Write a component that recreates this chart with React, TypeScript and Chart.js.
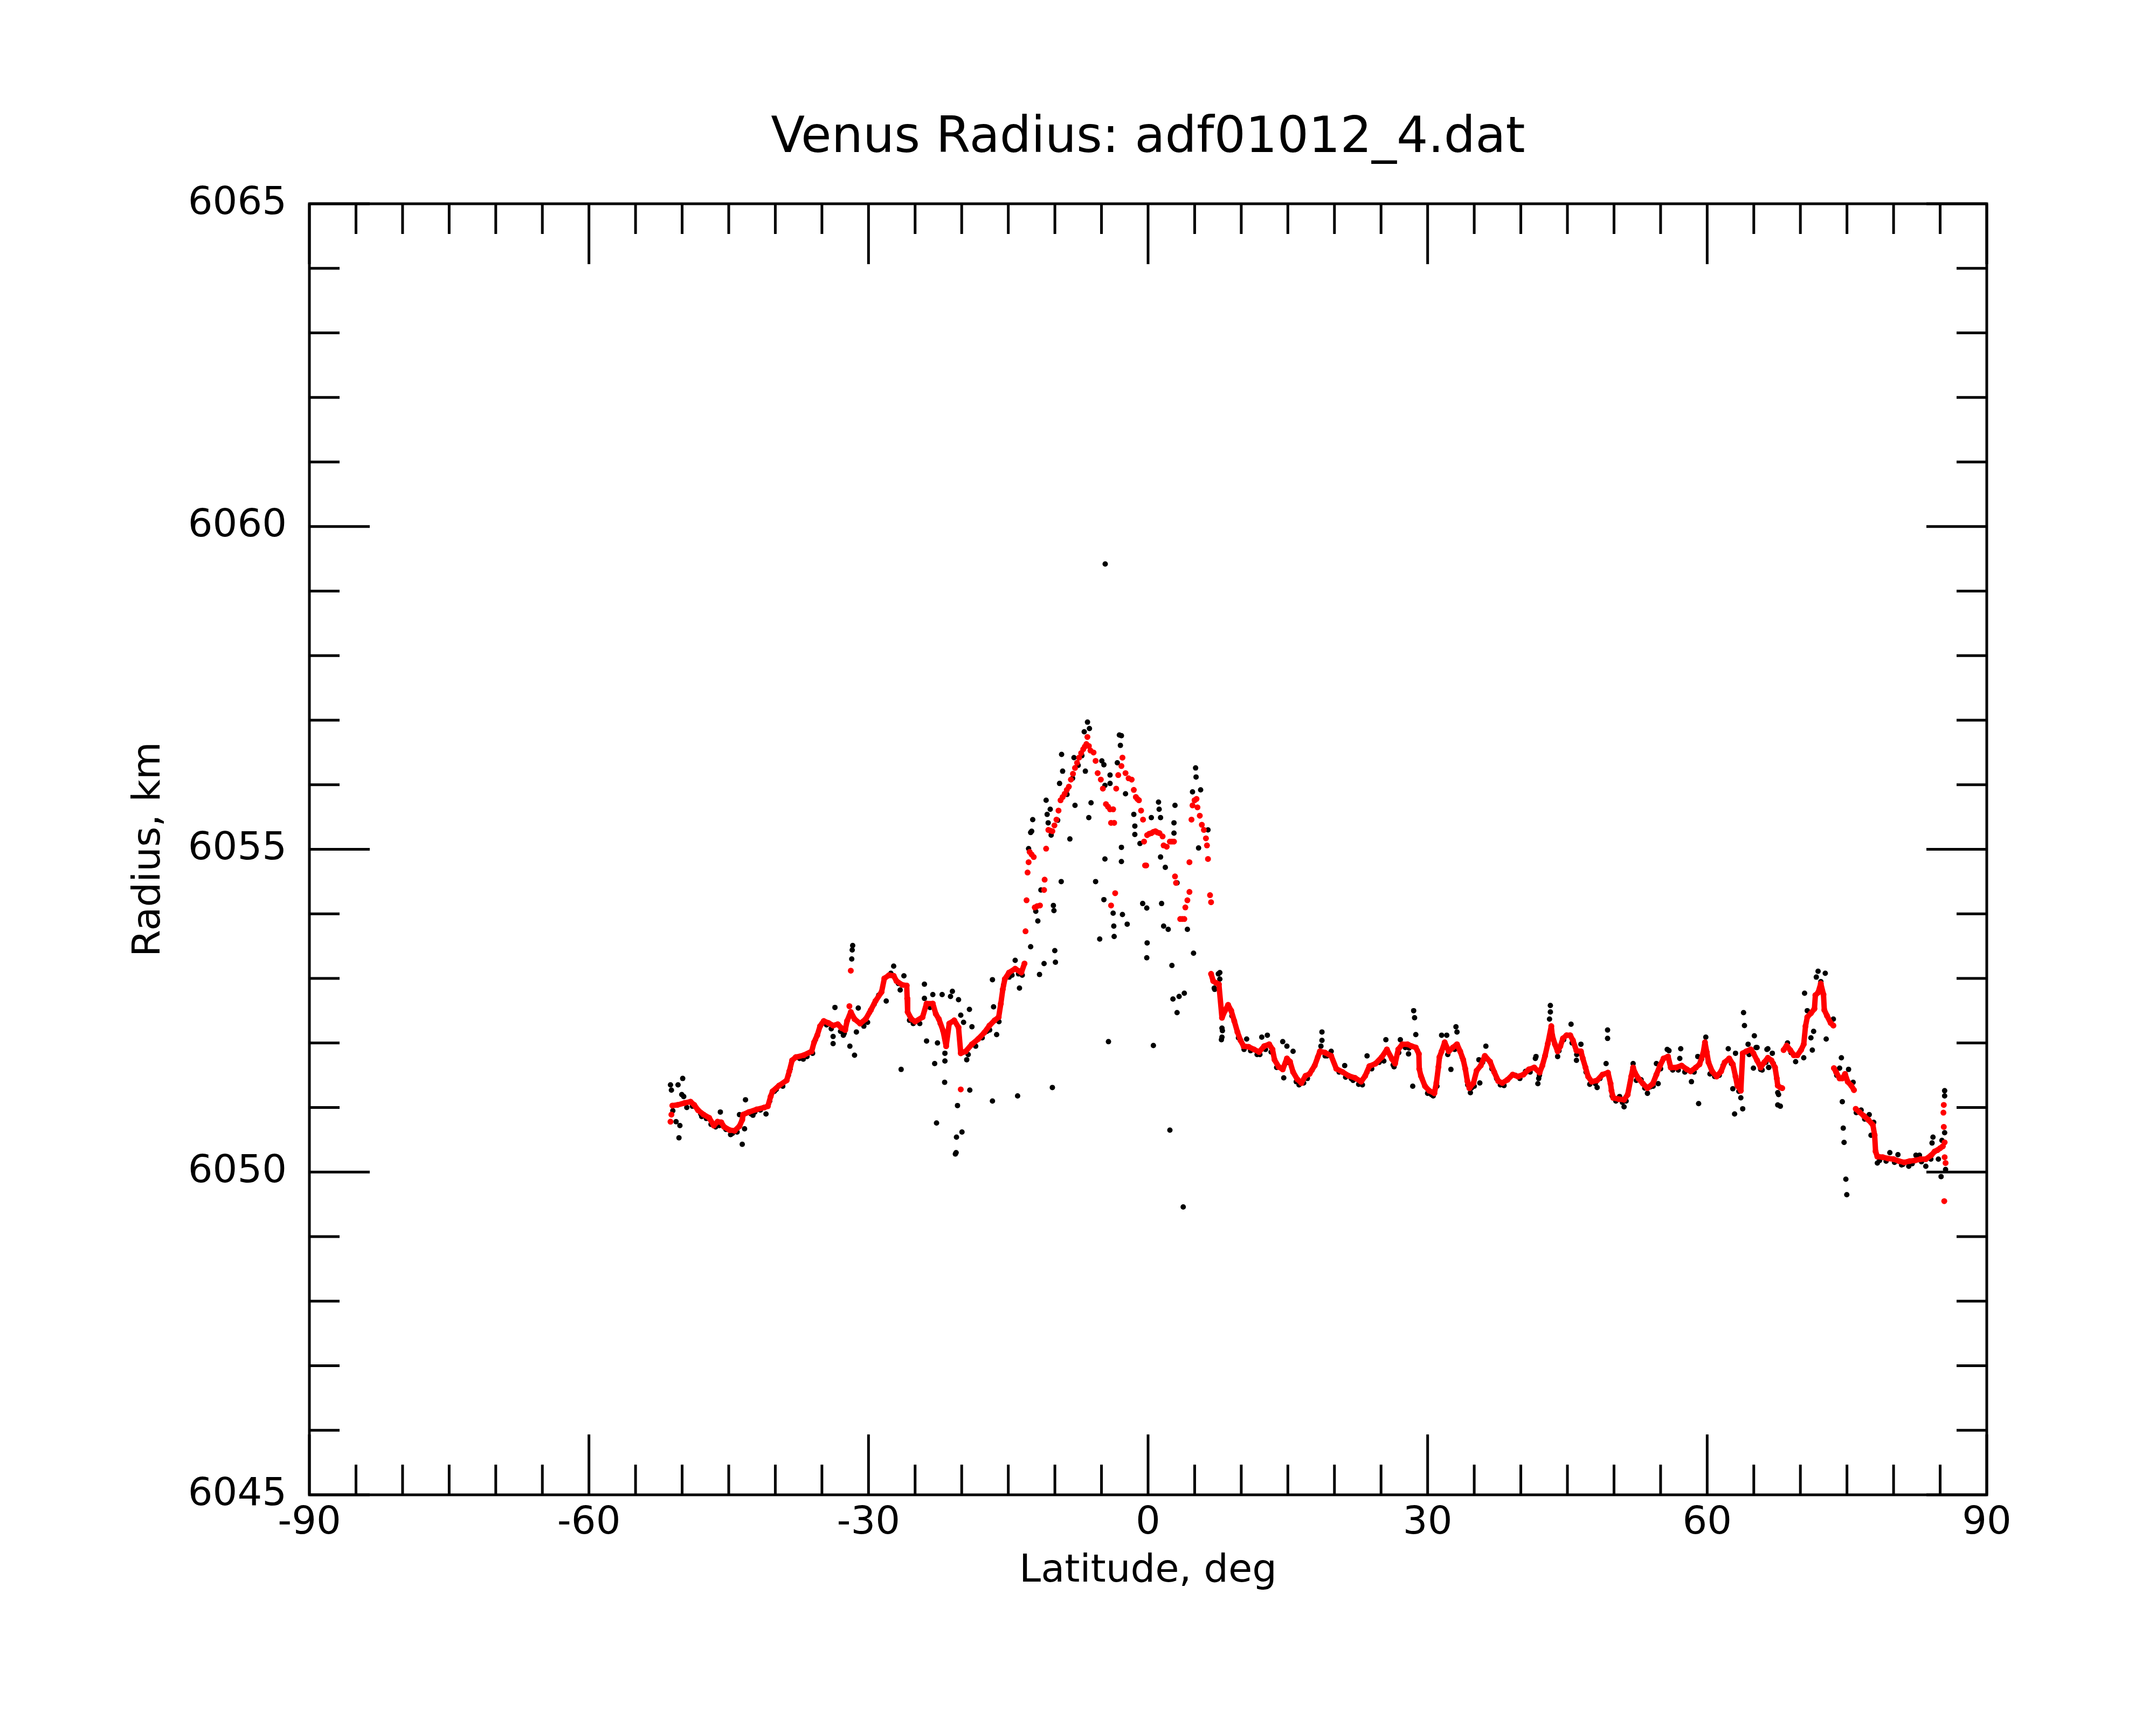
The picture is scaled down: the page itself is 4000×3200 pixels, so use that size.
import React, { useEffect, useRef } from 'react'
import { Chart, registerables } from 'chart.js'

Chart.register(...registerables)

const chartTitle = 'Venus Radius: adf01012_4.dat'
const xTitle = 'Latitude, deg'
const yTitle = 'Radius, km'

const latTicks = [-90, -60, -30, 0, 30, 60, 90]
const radiusTicks = [6045, 6050, 6055, 6060, 6065]
const latMinorStep = 5
const radiusMinorStep = 1

// smoothed profile (red), null = gap in the trace
const redLineLat = [
	-51.05, -50.5, -49.73, -49.1, -48.7, -48.3, -47.7, -47.1, -46.6, -46.2, -45.8, -45.5, -44.9, -44.36, -43.85, -43.55,
	-43.45, -42.84, -42.0, -41.2, -40.8, -40.5, -40.3, -39.6, -38.78, -38.5, -38.2, -37.8, -36.95, -36.1, -35.84, -35.5,
	-35.2, -34.8, -34.3, -33.8, -33.3, -32.9, -32.5, -32.3, -31.9, -31.5, -30.9, -30.3, -29.75, -29.25, -28.6, -28.3,
	-27.8, -27.3, -27.0, -26.4, -25.9, -25.85, -25.8, -25.4, -25.0, -24.2, -23.77, -23.1, -22.78, -22.45, -22.0, -21.67,
	-21.34, -20.8, -20.34, -20.1, -19.57, -18.9, -18.24, -17.58, -17.02, -16.47, -16.03, -15.8, -15.59, -15.37, -14.92,
	-14.26, -13.6, -13.26, -13.2,
	6.76, 6.99, 7.3, 7.6, 7.93, 8.26, 8.59, 8.92, 9.25, 9.59, 9.92, 10.25, 10.8, 11.36, 11.91, 12.46, 13.0, 13.35, 13.57,
	14.01, 14.45, 14.9, 15.23, 15.56, 16.0, 16.45, 16.89, 17.33, 17.88, 18.44, 18.99, 19.65, 20.2, 20.87, 21.53, 22.2,
	22.86, 23.3, 23.75, 24.41, 25.08, 25.63, 26.18, 26.51, 26.85, 27.29, 27.84, 28.29, 28.73, 29.06, 29.1, 29.28, 29.72,
	30.17, 30.72, 30.94, 31.16, 31.27, 31.5, 31.83, 32.27, 32.71, 33.15, 33.49, 33.82, 34.04, 34.26, 34.48, 34.92, 35.26,
	35.7, 36.14, 36.7, 37.14, 37.58, 38.02, 38.57, 39.13, 39.7, 40.28, 40.86, 41.44, 42.02, 42.31, 42.6, 42.9, 43.27,
	43.37, 43.66, 43.95, 44.24, 44.52, 44.91, 45.3, 45.59, 45.97, 46.45, 46.65, 46.94, 47.22, 47.61, 48.19, 48.77, 49.35,
	49.63, 49.73, 49.92, 50.5, 51.08, 51.47, 51.85, 52.05, 52.24, 52.62, 53.1, 53.59, 54.17, 54.55, 54.94, 55.32, 55.8,
	56.09, 56.67, 57.25, 57.83, 58.22, 58.79, 59.18, 59.57, 59.76, 59.95, 60.14, 60.53, 61.01, 61.49, 61.88, 62.36, 62.75,
	63.04, 63.23, 63.61, 63.81, 64.19, 64.68, 64.96, 65.35, 65.74, 66.12, 66.51, 66.89, 67.28, 67.47, 67.57, 67.85, 68.05,
	68.1,
	68.2, 68.53, 68.91, 69.3, 69.68, 70.07, 70.36, 70.55, 70.74, 71.13, 71.51, 71.61, 71.9, 72.19, 72.48, 72.57, 72.86,
	73.25, 73.54, 73.55,
	73.6, 73.83, 74.21, 74.5, 74.79, 75.08, 75.46, 75.75, 75.8,
	75.94, 76.33, 76.81, 77.29, 77.78, 77.97, 78.07, 78.26, 78.84, 79.41, 79.99, 80.57, 81.15, 81.73, 82.3, 82.88, 83.46,
	84.04, 84.42, 84.71, 85.0, 85.29,
]
const redLineRadius = [
	6051.03, 6051.04, 6051.07, 6051.09, 6051.04, 6050.96, 6050.89, 6050.84, 6050.72, 6050.78, 6050.77, 6050.7, 6050.65,
	6050.64, 6050.71, 6050.81, 6050.89, 6050.93, 6050.97, 6051.0, 6051.02, 6051.17, 6051.25, 6051.34, 6051.42, 6051.56,
	6051.73, 6051.78, 6051.81, 6051.87, 6052.01, 6052.12, 6052.26, 6052.34, 6052.31, 6052.27, 6052.29, 6052.23, 6052.2,
	6052.34, 6052.48, 6052.37, 6052.3, 6052.37, 6052.51, 6052.65, 6052.79, 6053.0, 6053.05, 6053.04, 6052.96, 6052.9,
	6052.89, 6052.69, 6052.48, 6052.37, 6052.33, 6052.4, 6052.61, 6052.61, 6052.45, 6052.37, 6052.19, 6051.95, 6052.3,
	6052.35, 6052.24, 6051.84, 6051.87, 6051.98, 6052.06, 6052.16, 6052.27, 6052.35, 6052.4, 6052.61, 6052.83, 6052.99,
	6053.09, 6053.15, 6053.09, 6053.23, null,
	6053.07, 6052.96, 6052.93, 6052.91, 6052.39, 6052.5, 6052.59, 6052.5, 6052.34, 6052.17, 6052.04, 6051.95, 6051.94,
	6051.9, 6051.86, 6051.95, 6051.98, 6051.9, 6051.74, 6051.63, 6051.59, 6051.76, 6051.71, 6051.55, 6051.44, 6051.38,
	6051.49, 6051.52, 6051.65, 6051.87, 6051.85, 6051.8, 6051.6, 6051.55, 6051.49, 6051.46, 6051.4, 6051.49, 6051.64,
	6051.68, 6051.78, 6051.9, 6051.75, 6051.68, 6051.9, 6051.98, 6051.98, 6051.95, 6051.93, 6051.83, 6051.6, 6051.49,
	6051.33, 6051.26, 6051.22, 6051.38, 6051.63, 6051.78, 6051.87, 6052.01, 6051.87, 6051.93, 6051.98, 6051.87, 6051.74,
	6051.6, 6051.41, 6051.3, 6051.38, 6051.57, 6051.65, 6051.8, 6051.71, 6051.55, 6051.41, 6051.38, 6051.43, 6051.51,
	6051.48, 6051.51, 6051.59, 6051.62, 6051.54, 6051.65, 6051.8, 6051.99, 6052.26, 6052.12, 6051.98, 6051.87, 6051.95,
	6052.07, 6052.12, 6052.12, 6052.04, 6051.88, 6051.87, 6051.76, 6051.62, 6051.48, 6051.4, 6051.42, 6051.51, 6051.54,
	6051.37, 6051.26, 6051.15, 6051.13, 6051.12, 6051.2, 6051.48, 6051.62, 6051.54, 6051.45, 6051.37, 6051.3, 6051.37,
	6051.51, 6051.65, 6051.76, 6051.79, 6051.62, 6051.62, 6051.65, 6051.59, 6051.56, 6051.62, 6051.67, 6051.84, 6052.01,
	6051.86, 6051.7, 6051.56, 6051.48, 6051.56, 6051.7, 6051.76, 6051.67, 6051.48, 6051.34, 6051.26, 6051.84, 6051.87,
	6051.9, 6051.84, 6051.73, 6051.62, 6051.7, 6051.77, 6051.73, 6051.62, 6051.45, 6051.34, 6051.31, 6051.3,
	null,
	6051.89, 6051.96, 6051.89, 6051.81, 6051.81, 6051.89, 6051.98, 6052.26, 6052.4, 6052.46, 6052.53, 6052.74, 6052.78,
	6052.92, 6052.75, 6052.51, 6052.42, 6052.31, 6052.27, null,
	6051.61, 6051.55, 6051.45, 6051.45, 6051.52, 6051.4, 6051.34, 6051.27, null,
	6050.98, 6050.93, 6050.87, 6050.81, 6050.73, 6050.57, 6050.32, 6050.24, 6050.23, 6050.21, 6050.2, 6050.17, 6050.15,
	6050.17, 6050.18, 6050.2, 6050.2, 6050.26, 6050.32, 6050.34, 6050.37, 6050.4,
]

// smoothed profile where it breaks into loose dots (red)
const redDotLat = [
	-51.25, -51.15, -32.05, -31.9, -20.1, -13.15, -13.04, -12.93, -12.82, -12.71, -12.5, -12.27, -12.16, -11.9, -11.6,
	-11.16, -11.1, -10.94, -10.7, -10.5, -10.27, -10.05, -9.83, -9.61, -9.39, -9.17, -8.95, -8.72, -8.5, -8.28, -8.06,
	-7.84, -7.62, -7.4, -7.18, -6.96, -6.79, -6.62, -6.51, -6.35, -6.18, -5.85, -5.63, -5.41, -5.07, -4.85, -4.52, -4.3,
	-4.08, -3.75, -3.97, -3.64, -3.53, -3.97, -3.42, -3.2, -2.86, -2.75, -2.42, -2.09, -1.76, -1.53, -1.31, -1.15, -0.98,
	-0.75, -0.54, -0.43, -0.32, -0.2, -0.1, 0.12, 0.35, 0.57, 0.79, 1.01, 1.23, 1.56, 1.67, 2.0, 2.34, 2.56, 2.78, 2.89,
	3.0, 3.45, 3.67, 3.89, 4.0, 4.22, 4.44, 4.44, 4.66, 4.77, 4.99, 5.2, 5.3, 5.55, 5.77, 5.99, 6.21, 6.32, 6.43, 6.65,
	6.76, 85.39, 85.35, 85.39, 85.48, 85.48, 85.58, 85.44,
]
const redDotRadius = [
	6050.78, 6050.89, 6052.57, 6053.12, 6051.28, 6053.73, 6054.21, 6054.64, 6054.8, 6054.96, 6054.92, 6054.88, 6054.1,
	6054.12, 6054.13, 6054.37, 6054.53, 6055.01, 6055.3, 6055.29, 6055.28, 6055.37, 6055.46, 6055.6, 6055.76, 6055.81,
	6055.86, 6055.92, 6055.97, 6056.08, 6056.17, 6056.26, 6056.34, 6056.42, 6056.49, 6056.55, 6056.59, 6056.63, 6056.74,
	6056.6, 6056.53, 6056.5, 6056.37, 6056.18, 6056.08, 6055.94, 6055.7, 6055.66, 6055.62, 6055.62, 6055.41, 6055.41,
	6054.32, 6054.13, 6055.94, 6056.15, 6056.29, 6056.42, 6056.18, 6056.1, 6056.08, 6055.92, 6055.81, 6055.78, 6055.76,
	6055.6, 6055.46, 6055.12, 6054.75, 6054.75, 6055.22, 6055.24, 6055.25, 6055.27, 6055.28, 6055.26, 6055.25, 6055.2,
	6055.06, 6055.04, 6055.12, 6055.12, 6055.12, 6054.58, 6054.48, 6053.92, 6053.92, 6053.92, 6054.1, 6054.21, 6054.34,
	6054.8, 6055.46, 6055.68, 6055.76, 6055.78, 6055.65, 6055.52, 6055.38, 6055.3, 6055.17, 6055.06, 6054.85, 6054.29,
	6054.18, 6051.04, 6050.92, 6050.7, 6050.46, 6050.23, 6050.14, 6049.55,
]

// raw measurements (black)
const blackLat = [
	-51.25, -51.15, -50.44, -49.94, -50.04, -49.83, -50.65, -50.24, -50.34, -51.0, -49.5, -48.9, -48.0, -47.4, -46.9,
	-46.4, -45.9, -45.3, -44.6, -44.1, -43.85, -43.55, -43.3, -43.2, -42.6, -42.2, -41.6, -41.0, -40.1, -39.2, -38.4,
	-37.4, -36.6, -35.7, -35.0, -34.5, -34.0, -33.6, -33.8, -33.8, -33.0, -32.7, -32.0, -31.5, -31.7, -31.8, -31.75,
	-31.3, -31.1, -30.6, -30.5, -29.9, -29.4, -28.9, -28.1, -27.6, -27.3, -26.8, -26.6, -26.5, -26.2, -25.6, -25.2,
	-24.0, -24.0, -23.1, -22.1, -21.0, -21.2, -20.34, -23.77, -22.6, -22.9, -21.8, -21.8, -21.83, -22.7, -20.45, -20.56,
	-19.97, -20.68, -20.6, -19.13, -19.17, -18.9, -19.46, -20.1, -19.8, -16.7, -16.7, -16.58, -16.25, -14.26, -14.0,
	-13.8, -12.6, -11.65, -11.16, -10.27, -10.01, -9.94, -12.49, -12.38, -12.6, -12.82, -12.05, -11.83, -11.5, -10.94,
	-10.5, -10.83, -10.72, -10.16, -10.1, -9.28, -9.17, -9.5, -9.32, -8.39, -7.84, -7.95, -6.73, -6.5, -6.29, -6.85,
	-6.36, -6.12, -5.63, -5.19, -4.96, -4.74, -4.63, -4.08, -4.08, -4.63, -4.74, -3.75, -3.68, -3.64, -4.25, -2.86,
	-2.86, -2.75, -2.24, -3.08, -2.86, -2.97, -3.3, -2.42, -1.53, -1.42, -1.42, -0.87, -0.58, -0.14, -0.1, -0.14, 0.35,
	0.57, 1.12, 1.19, 1.34, 1.34, 1.45, 1.67, 1.85, 2.16, 2.56, 2.34, 2.67, 2.78, 2.78, 2.89, 3.11, 3.11, 3.33, 3.77,
	3.89, 4.22, 4.77, 5.1, 5.15, 4.88, 5.42, 5.64, 6.43, 7.54, 7.1, 7.87, 7.98, -4.6, -18.5, -17.8, -17.3, -15.5, -14.6,
	-13.9, -19.3, -8.7, -8.1, -7.5, -7.1, -9.7, -10.4,
	7.7, 7.7, 7.15, 7.93, 7.93, 10.58, 12.2, 12.8, 14.45, 14.56, 14.9, 15.56, 18.66, 18.66, 18.55, 19.65, 21.1, 23.5,
	25.52, 27.07, 26.4, 27.95, 28.5, 28.6, 28.73, 28.4, 31.5, 32.05, 33.04, 33.15, 32.5, 32.16, 35.5, 36.25, 35.6, 34.59,
	41.56, 10.3, 11.0, 11.7, 13.8, 16.2, 16.7, 17.6, 19.2, 20.5, 21.8, 22.6, 23.0, 24.0, 24.8, 26.9, 27.6, 29.4, 30.4,
	30.6, 33.7, 34.7, 36.4, 37.4, 38.2, 39.4, 40.5,
	41.63, 41.92, 41.83, 43.17, 43.17, 43.08, 45.39, 46.45, 45.97, 43.95, 49.31, 49.31, 49.15, 48.19, 51.08, 50.6, 52.05,
	52.91, 53.59, 54.55, 54.74, 55.71, 55.9, 57.16, 57.06, 58.31, 58.99, 59.08, 59.85, 62.26, 63.04, 62.75, 62.94, 63.81,
	63.61, 63.9, 64.0, 65.06, 64.39, 65.35, 66.51, 66.99, 66.6, 65.74, 67.57, 67.57, 42.0, 44.1, 46.0, 47.4, 48.5, 50.2,
	50.9, 53.3, 54.2, 56.3, 57.6, 60.8, 61.3, 62.6, 63.4, 65.9, 67.1,
	65.25, 64.96, 66.41, 66.6, 67.66, 67.85, 68.62, 69.49, 70.36, 70.45, 70.74, 71.42, 71.13, 71.28, 71.9, 71.71, 72.67,
	72.77, 73.54, 74.4, 74.21, 75.17, 75.66, 74.5, 74.6, 74.69, 74.88, 74.98, 76.52, 77.39, 77.87, 77.58, 78.26, 79.6,
	80.47, 80.86, 81.63, 82.4, 82.78, 83.46, 84.23, 84.13, 85.19, 84.81, 85.1, 85.48, 85.48, 85.48, 85.58, 78.5, 79.2,
	80.1, 81.0, 82.0, 83.0, 84.0, 76.0, 76.9, 69.0, 72.2, 73.9,
]
const blackRadius = [
	6051.35, 6051.27, 6051.35, 6051.45, 6051.2, 6051.17, 6050.78, 6050.72, 6050.53, 6050.95, 6051.0, 6051.02, 6050.9,
	6050.83, 6050.74, 6050.7, 6050.93, 6050.66, 6050.6, 6050.62, 6050.89, 6050.43, 6050.67, 6051.12, 6050.9, 6050.93,
	6050.96, 6050.9, 6051.25, 6051.33, 6051.6, 6051.76, 6051.79, 6052.05, 6052.3, 6052.28, 6052.22, 6052.55, 6052.1,
	6051.99, 6052.18, 6052.12, 6051.95, 6051.81, 6053.51, 6053.3, 6053.44, 6052.17, 6052.54, 6052.31, 6052.26, 6052.47,
	6052.6, 6052.74, 6052.65, 6053.08, 6053.19, 6052.92, 6052.82, 6051.59, 6053.04, 6052.35, 6052.3,
	6052.91, 6052.69, 6052.75, 6052.75, 6052.8, 6052.72, 6052.67, 6052.03, 6052.0, 6051.68, 6051.72, 6051.84, 6051.39,
	6050.76, 6051.03, 6050.54, 6050.62, 6050.28, 6050.3, 6051.27, 6052.52, 6052.25, 6051.74, 6052.43, 6052.32, 6051.1,
	6052.98, 6052.56, 6052.13, 6053.28, 6051.18, 6052.85, 6053.49, 6053.06, 6053.23, 6051.31, 6053.43, 6053.25, 6055.28,
	6055.46, 6055.26, 6055.01, 6054.04, 6053.89, 6054.37, 6055.76, 6055.62, 6055.54, 6055.41, 6054.13, 6054.05, 6056.47,
	6056.21, 6056.02, 6054.5, 6055.16, 6055.68, 6056.42, 6056.21, 6056.97, 6056.87, 6056.82, 6055.49, 6055.72, 6054.5,
	6053.61, 6056.37, 6056.31, 6055.99, 6056.15, 6056.02, 6054.85, 6054.22, 6054.01, 6053.81, 6053.65, 6052.02, 6055.03,
	6054.81, 6053.99, 6053.84, 6056.77, 6056.76, 6056.61, 6056.34, 6055.86, 6055.54, 6055.36, 6055.23, 6055.09, 6054.16,
	6054.09, 6053.55, 6053.32, 6055.49, 6051.96, 6055.73, 6055.62, 6055.49, 6054.88, 6054.16, 6053.81, 6054.72, 6053.76,
	6053.2, 6050.65, 6052.68, 6055.41, 6055.25, 6055.68, 6054.48, 6052.47, 6052.72, 6049.46, 6052.77, 6053.76, 6055.89,
	6056.26, 6056.12, 6053.39, 6055.02, 6055.92, 6055.3, 6053.07, 6052.85, 6052.05, 6052.19, 6059.42, 6051.95, 6052.08,
	6052.18, 6052.9, 6053.05, 6053.07, 6051.82, 6055.85, 6056.1, 6056.3, 6056.45, 6055.45, 6055.22,
	6053.09, 6052.99, 6052.83, 6052.23, 6052.09, 6052.06, 6052.09, 6052.12, 6052.02, 6051.46, 6051.95, 6051.87, 6052.17,
	6052.04, 6051.95, 6051.87, 6051.65, 6051.8, 6052.05, 6052.05, 6051.63, 6051.83, 6052.5, 6052.39, 6052.13, 6051.33,
	6052.12, 6052.12, 6052.25, 6052.17, 6051.59, 6051.82, 6051.74, 6051.95, 6051.38, 6051.23, 6051.76, 6051.9, 6051.88,
	6051.82, 6051.62, 6051.35, 6051.38, 6051.58, 6051.8, 6051.55, 6051.45, 6051.36, 6051.35, 6051.6, 6051.7, 6051.85,
	6051.93, 6051.45, 6051.2, 6051.18, 6051.78, 6051.3, 6051.75, 6051.45, 6051.34, 6051.5, 6051.56,
	6051.79, 6051.45, 6051.37, 6052.58, 6052.48, 6052.37, 6052.29, 6051.98, 6051.73, 6051.79, 6052.2, 6052.07, 6051.68,
	6051.31, 6051.01, 6051.17, 6051.68, 6051.43, 6051.22, 6051.68, 6051.37, 6051.9, 6051.88, 6051.91, 6051.76, 6051.4,
	6051.79, 6051.06, 6052.09, 6051.91, 6051.84, 6051.29, 6050.9, 6050.98, 6051.15, 6052.47, 6052.27, 6052.11, 6051.98,
	6051.93, 6051.91, 6051.84, 6051.62, 6051.59, 6051.23, 6051.04, 6051.5, 6051.88, 6051.82, 6051.36, 6051.45, 6051.1,
	6051.08, 6051.3, 6051.33, 6051.58, 6051.55, 6051.48, 6051.5, 6051.68, 6051.25, 6051.58, 6051.68,
	6051.93, 6051.61, 6051.9, 6051.62, 6051.2, 6051.02, 6052.0, 6051.71, 6051.77, 6052.77, 6052.5, 6052.18, 6052.08,
	6051.89, 6053.11, 6053.02, 6053.08, 6052.06, 6052.37, 6051.77, 6051.61, 6051.59, 6051.39, 6051.09, 6050.68, 6050.46,
	6049.89, 6049.65, 6050.96, 6050.89, 6050.77, 6050.57, 6050.14, 6050.3, 6050.27, 6050.11, 6050.09, 6050.26, 6050.26,
	6050.09, 6050.54, 6050.45, 6050.49, 6050.2, 6049.93, 6051.26, 6051.18, 6050.61, 6050.04, 6050.18, 6050.17, 6050.15,
	6050.12, 6050.13, 6050.16, 6050.2, 6050.92, 6050.82, 6051.85, 6052.95, 6051.5,
]

// raw measurements hugging the smoothed trace (black fringe under the red)
const blackNearLat = [
	-47.9, -46.0, -44.8, -42.4, -40.6, -39.9, -38.6, -37.0, -36.0, -32.6, -30.1, -24.5, -23.4, -22.3, -17.0, -16.0,
	-14.9, -13.5, 9.0, 9.7, 12.0, 12.6, 13.2, 15.0, 15.9, 17.1, 18.2, 19.0, 21.2, 22.0, 23.5, 25.3, 26.3, 28.0, 28.9,
	30.0, 31.0, 31.9, 32.9, 34.3, 35.0, 35.9, 36.9, 37.8, 39.9, 41.0, 44.6, 45.5, 47.0, 48.0, 49.8, 51.3, 52.4, 53.9,
	55.0, 56.9, 58.6, 59.4, 60.3, 61.7, 64.5, 66.3,
]
const blackNearRadius = [
	6050.86, 6050.72, 6050.58, 6050.88, 6051.1, 6051.28, 6051.5, 6051.75, 6051.84, 6052.15, 6052.32, 6052.3, 6052.55,
	6052.3, 6052.2, 6052.33, 6053.02, 6053.05, 6052.42, 6052.08, 6051.82, 6051.9, 6051.86, 6051.7, 6051.4, 6051.45,
	6051.78, 6051.8, 6051.47, 6051.42, 6051.55, 6051.72, 6051.66, 6051.92, 6051.88, 6051.22, 6051.33, 6051.96, 6051.9,
	6051.35, 6051.33, 6051.7, 6051.6, 6051.35, 6051.45, 6051.55, 6052.05, 6052.0, 6051.55, 6051.37, 6051.18, 6051.1,
	6051.42, 6051.32, 6051.6, 6051.58, 6051.55, 6051.75, 6051.52, 6051.65, 6051.82, 6051.7,
]

const W = 4000
const H = 3200
const fontFamily = '"DejaVu Sans", sans-serif'

function pairs(xs: number[], ys: (number | null)[]) {
	const n = Math.min(xs.length, ys.length)
	const out: { x: number; y: number | null }[] = []
	for (let i = 0; i < n; i++) out.push({ x: xs[i], y: ys[i] })
	return out
}

const framePlugin = {
	id: 'frame',
	afterDraw(chart: Chart) {
		const { ctx, chartArea: a } = chart
		const xs = chart.scales.x
		const ys = chart.scales.y
		const major = 112
		const minor = 56
		ctx.save()
		ctx.strokeStyle = '#000'
		ctx.lineWidth = 5
		ctx.strokeRect(a.left, a.top, a.right - a.left, a.bottom - a.top)
		ctx.beginPath()
		for (let v = xs.min; v <= xs.max; v += latMinorStep) {
			const px = xs.getPixelForValue(v)
			const len = latTicks.includes(v) ? major : minor
			ctx.moveTo(px, a.bottom)
			ctx.lineTo(px, a.bottom - len)
			ctx.moveTo(px, a.top)
			ctx.lineTo(px, a.top + len)
		}
		for (let v = ys.min; v <= ys.max; v += radiusMinorStep) {
			const py = ys.getPixelForValue(v)
			const len = radiusTicks.includes(v) ? major : minor
			ctx.moveTo(a.left, py)
			ctx.lineTo(a.left + len, py)
			ctx.moveTo(a.right, py)
			ctx.lineTo(a.right - len, py)
		}
		ctx.stroke()

		ctx.fillStyle = '#000'
		ctx.textAlign = 'center'
		ctx.textBaseline = 'alphabetic'
		ctx.font = `92px ${fontFamily}`
		ctx.fillText(chartTitle, (a.left + a.right) / 2, a.top - 96)
		ctx.font = `72px ${fontFamily}`
		ctx.fillText(xTitle, (a.left + a.right) / 2, a.bottom + 161)
		ctx.translate(a.left - 278, (a.top + a.bottom) / 2)
		ctx.rotate(-Math.PI / 2)
		ctx.fillText(yTitle, 0, 0)
		ctx.restore()
	},
}

function RadiusChart() {
	const refCanvas = useRef<HTMLCanvasElement>(null)

	useEffect(() => {
		let chart: Chart | undefined
		if (refCanvas.current) {
			chart = new Chart(refCanvas.current, {
				type: 'scatter',
				data: {
					datasets: [
						{
							data: pairs(redLineLat, redLineRadius),
							showLine: true,
							spanGaps: false,
							borderColor: '#ff0000',
							backgroundColor: '#ff0000',
							borderWidth: 10,
							borderJoinStyle: 'round',
							borderCapStyle: 'round',
							pointRadius: 5.5,
							pointBorderWidth: 0,
						},
						{
							data: pairs(redDotLat, redDotRadius),
							backgroundColor: '#ff0000',
							pointRadius: 5.5,
							pointBorderWidth: 0,
						},
						{
							data: [...pairs(blackLat, blackRadius), ...pairs(blackNearLat, blackNearRadius)],
							backgroundColor: '#000000',
							pointRadius: 5,
							pointBorderWidth: 0,
						},
					],
				},
				options: {
					animation: false,
					responsive: false,
					devicePixelRatio: 1,
					layout: { padding: { left: 0, top: 378, right: 314, bottom: 0 } },
					plugins: {
						legend: { display: false },
						tooltip: { enabled: false },
					},
					scales: {
						x: {
							type: 'linear',
							min: -90,
							max: 90,
							grid: { display: false, drawTicks: false },
							border: { display: false },
							afterBuildTicks: (s: any) => {
								s.ticks = latTicks.map((value) => ({ value }))
							},
							afterFit: (s: any) => {
								s.height = 427
								s.paddingLeft = 0
								s.paddingRight = 0
							},
							ticks: {
								autoSkip: false,
								maxRotation: 0,
								padding: 10,
								color: '#000',
								font: { family: fontFamily, size: 72 },
								callback: (v: any) => String(v),
							},
						},
						y: {
							type: 'linear',
							min: 6045,
							max: 6065,
							grid: { display: false, drawTicks: false },
							border: { display: false },
							afterBuildTicks: (s: any) => {
								s.ticks = radiusTicks.map((value) => ({ value }))
							},
							afterFit: (s: any) => {
								s.width = 574
								s.paddingTop = 0
								s.paddingBottom = 0
							},
							ticks: {
								autoSkip: false,
								padding: 42,
								color: '#000',
								font: { family: fontFamily, size: 72 },
								callback: (v: any) => String(v),
							},
						},
					},
				},
				plugins: [framePlugin],
			})
		}
		return () => chart?.destroy()
	}, [])

	return (
		<canvas
			ref={refCanvas}
			width={W}
			height={H}
			style={{ position: 'fixed', left: 0, top: 0, background: '#fff' }}
		/>
	)
}

export default function App() {
	return <RadiusChart />
}
